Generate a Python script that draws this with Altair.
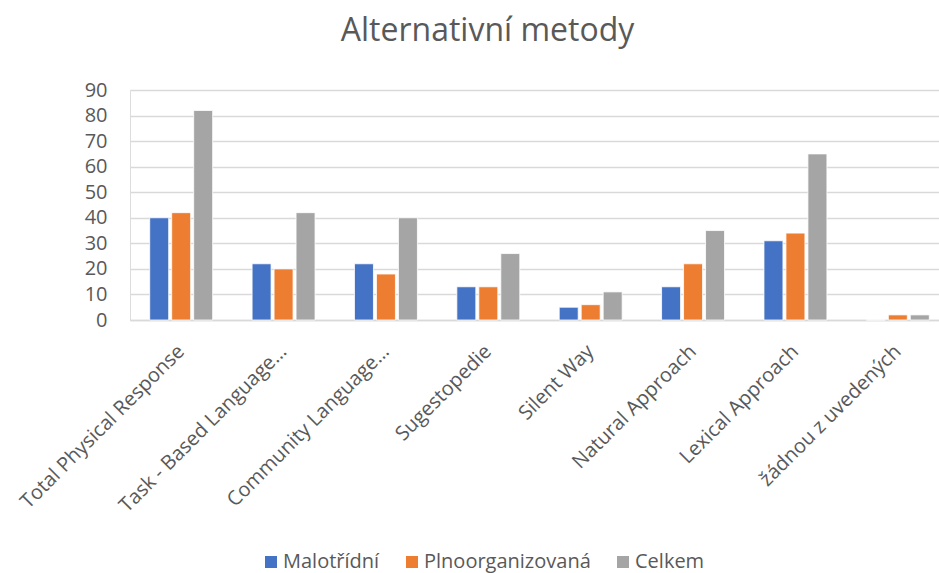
import altair as alt
import pandas as pd

categories = ["Total Physical Response", "Task - Based Language…", "Community Language…",
              "Sugestopedie", "Silent Way", "Natural Approach", "Lexical Approach",
              "žádnou z uvedených"]
series = ["Malotřídní", "Plnoorganizovaná", "Celkem"]
malotridni = [40, 22, 22, 13, 5, 13, 31, 0]
plnoorganizovana = [42, 20, 18, 13, 6, 22, 34, 2]
celkem = [82, 42, 40, 26, 11, 35, 65, 2]
colors = ["#4472C4", "#ED7D31", "#A5A5A5"]
y_ticks = [0, 10, 20, 30, 40, 50, 60, 70, 80, 90]

rows = []
for s, vals in zip(series, [malotridni, plnoorganizovana, celkem]):
    for c, v in zip(categories, vals):
        rows.append({"Metoda": c, "Řada": s, "Hodnota": v})
df = pd.DataFrame(rows)

FONT = "Open Sans"
GREY = "#595959"

chart = alt.Chart(df).mark_bar(stroke="white", strokeWidth=0.8).encode(
    x=alt.X("Metoda:N", sort=categories, title=None,
            scale=alt.Scale(paddingInner=0.385, paddingOuter=0.1925, range=[0, 819]),
            axis=alt.Axis(labelAngle=-45, labelAlign="right", labelBaseline="middle",
                          labelFontSize=20, labelColor=GREY, labelFont=FONT,
                          labelPadding=28, ticks=False, domainColor="#d9d9d9",
                          domainWidth=1.5, labelLimit=400)),
    xOffset=alt.XOffset("Řada:N", sort=series, scale=alt.Scale(paddingInner=0.136)),
    y=alt.Y("Hodnota:Q", title=None,
            scale=alt.Scale(domain=[0, 90], nice=False),
            axis=alt.Axis(values=y_ticks, labelFontSize=20, labelColor=GREY, labelFont=FONT,
                          ticks=False, domain=False, gridColor="#d9d9d9", gridWidth=1.5,
                          labelPadding=23)),
    color=alt.Color("Řada:N", sort=series, scale=alt.Scale(domain=series, range=colors),
                    legend=alt.Legend(title=None, orient="none", direction="horizontal",
                                      legendX=131, legendY=462, symbolType="square",
                                      symbolSize=144, symbolStrokeWidth=0,
                                      labelFontSize=20, labelColor=GREY, labelFont=FONT,
                                      labelLimit=400, columnPadding=22, labelOffset=2)),
).properties(
    width=809, height=230,
    title=alt.Title("Alternativní metody", fontSize=32, color=GREY, font=FONT,
                    fontWeight="normal", anchor="middle", frame="group", dx=-47,
                    offset=32),
    autosize=alt.AutoSizeParams(type="none"),
    padding={"left": 130, "top": 90, "right": 0, "bottom": 253},
).configure_view(stroke=None).configure(background="white")

chart.save("out.html", embed_options={"renderer": "svg", "actions": False})
